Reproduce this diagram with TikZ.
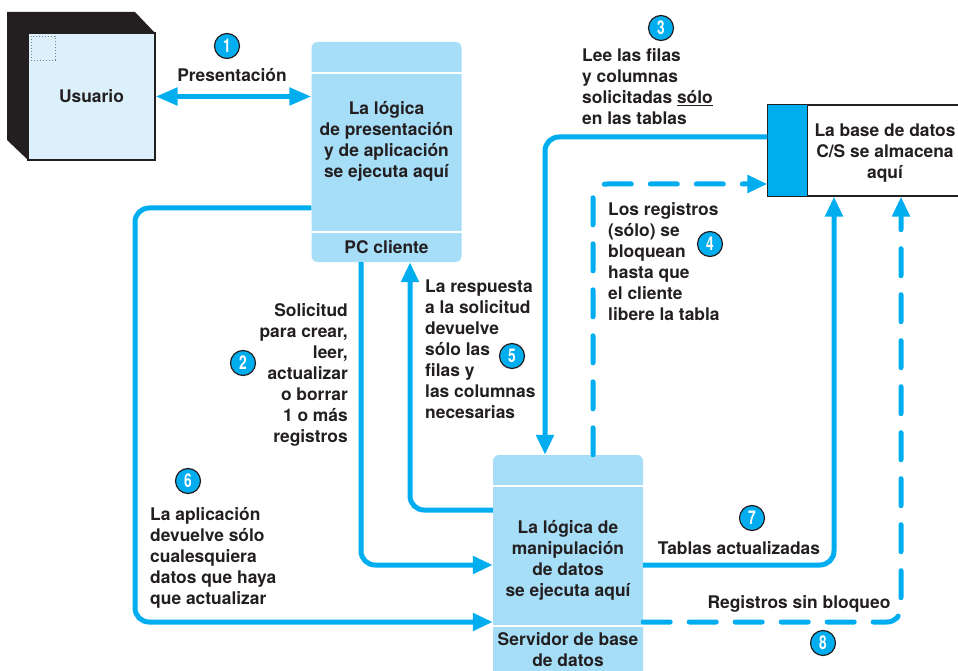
\documentclass[tikz,border=0pt]{standalone}
\usepackage{fontspec}
\setsansfont{TeX Gyre Heros}
\newfontfamily\numfont{TeX Gyre Heros}[FakeStretch=0.72]
\usetikzlibrary{arrows.meta,
                positioning
                }
\definecolor{flowc}{HTML}{00AEEF}
\definecolor{boxc}{HTML}{A6DDF7}
\definecolor{userc}{HTML}{DBF0FB}
\definecolor{inkc}{HTML}{231F20}
\tikzset{
  lbl/.style={font=\sffamily\bfseries\fontsize{17.4}{21}\selectfont, text=inkc, inner sep=0pt},
  tierbox/.style={fill=boxc, rounded corners=6pt, minimum width=150pt, inner sep=0pt},
  flow/.style={draw=flowc, line width=5pt, rounded corners=14pt, -{Triangle[length=20pt,width=17pt]}},
  dflow/.style={flow, dash pattern=on 27pt off 19pt, line cap=round},
  sep/.style={draw=white, line width=2pt},
  num/.style={circle, fill=flowc, draw=inkc, line width=1.2pt, minimum size=25pt, inner sep=0pt,
              text=white, font=\numfont\bfseries\fontsize{19}{19}\selectfont}
}

\begin{document}
\begin{tikzpicture}[x=1pt, y=-1pt]
            \useasboundingbox (0,0) rectangle (958,671);

            %user cube
            \fill[inkc] (7,12) -- (135,12) -- (155,33) -- (155,160) -- (28,160) -- (7,140) -- cycle;
            \node[draw=inkc, fill=userc, line width=1.2pt, minimum width=127pt, minimum height=127pt] (user) at (91.5,96.5) {};
            \draw[gray, dotted, line width=1pt] ([shift={(4,4)}]user.north west) rectangle ([shift={(28,28)}]user.north west);
            \node[lbl] (usrtxt) at (user.center) {Usuario};

            %tiers
            \node[tierbox, minimum height=220pt] (pc) at (386.5,152) {};
            \node[tierbox, minimum height=224pt] (srv) at (568,567) {};
            \draw[sep] (pc.west |- 0,73) -- (pc.east |- 0,73);
            \draw[sep] (pc.west |- 0,232) -- (pc.east |- 0,232);
            \draw[sep] (srv.west |- 0,486) -- (srv.east |- 0,486);
            \draw[sep] (srv.west |- 0,626) -- (srv.east |- 0,626);
            \node[lbl, align=center] (pctxt) at (386.5,141) {La lógica\\de presentación\\y de aplicación\\se ejecuta aquí};
            \node[lbl] (pclbl) at (386.5,247) {PC cliente};
            \node[lbl, align=center] (srvtxt) at (568,560) {La lógica de\\manipulación\\de datos\\se ejecuta aquí};
            \node[lbl, align=center] (srvlbl) at (568,650) {Servidor de base\\de datos};

            %database
            \node[draw=inkc, fill=white, line width=1.2pt, minimum width=194pt, minimum height=91pt, inner sep=0pt] (db) at (865,150.5) {};
            \filldraw[fill=flowc, draw=inkc, line width=1.2pt] (db.north west) rectangle ([xshift=40pt]db.south west);
            \node[lbl, align=center] (dbtxt) at (885,153) {La base de datos\\C/S se almacena\\aquí};

            %connectors
            \draw[draw=flowc, line width=5pt, {Triangle[length=22pt,width=17pt]}-{Triangle[length=22pt,width=17pt]}] (user.east) -- (pc.west |- user.east);
            \draw[flow] ([xshift=-25.5pt]pc.south) |- (srv.west |- 0,565);
            \draw[flow] (db.west |- 0,137) -| ([xshift=-23pt]srv.north);
            \draw[dflow] ([xshift=25pt]srv.north) |- (db.west |- 0,184);
            \draw[flow] (srv.west |- 0,510) -| ([xshift=23.5pt]pc.south);
            \coordinate (c6) at (135,622);
            \draw[flow] (pc.west |- 0,208) -| (c6) -- (srv.west |- c6);
            \draw[flow] (srv.east |- 0,565) -| ([xshift=-31pt]db.south);
            \draw[dflow] (srv.east |- 0,622) -| ([xshift=36pt]db.south);

            %labels
            \node[lbl] (l1) at (232,75) {Presentación};
            \node[lbl, anchor=east, align=right] (l2) at (348,375) {Solicitud\\para crear,\\leer,\\actualizar\\o borrar\\1 o más\\registros};
            \node[lbl, anchor=west, align=left] (l3) at (582,87) {Lee las filas\\y columnas\\solicitadas \underline{sólo}\\en las tablas};
            \node[lbl, anchor=west, align=left] (l4) at (608,262) {Los registros\\(sólo) se\\bloquean\\hasta que\\el cliente\\libere la tabla};
            \node[lbl, anchor=west, align=left] (l5) at (425,349) {La respuesta\\a la solicitud\\devuelve\\sólo las\\filas y\\las columnas\\necesarias};
            \node[lbl, anchor=west, align=left] (l6) at (150,558) {La aplicación\\devuelve sólo\\cualesquiera\\datos que haya\\que actualizar};
            \node[lbl] (l7) at (739,548) {Tablas actualizadas};
            \node[lbl] (l8) at (799,604) {Registros sin bloqueo};

            %step numbers
            \node[num] (n1) at (227,46) {1};
            \node[num] (n2) at (243,363) {2};
            \node[num] (n3) at (661,28) {3};
            \node[num] (n4) at (710,244) {4};
            \node[num] (n5) at (512,356) {5};
            \node[num] (n6) at (188,481) {6};
            \node[num] (n7) at (752,518) {7};
            \node[num] (n8) at (823,643) {8};
\end{tikzpicture}
\end{document}
